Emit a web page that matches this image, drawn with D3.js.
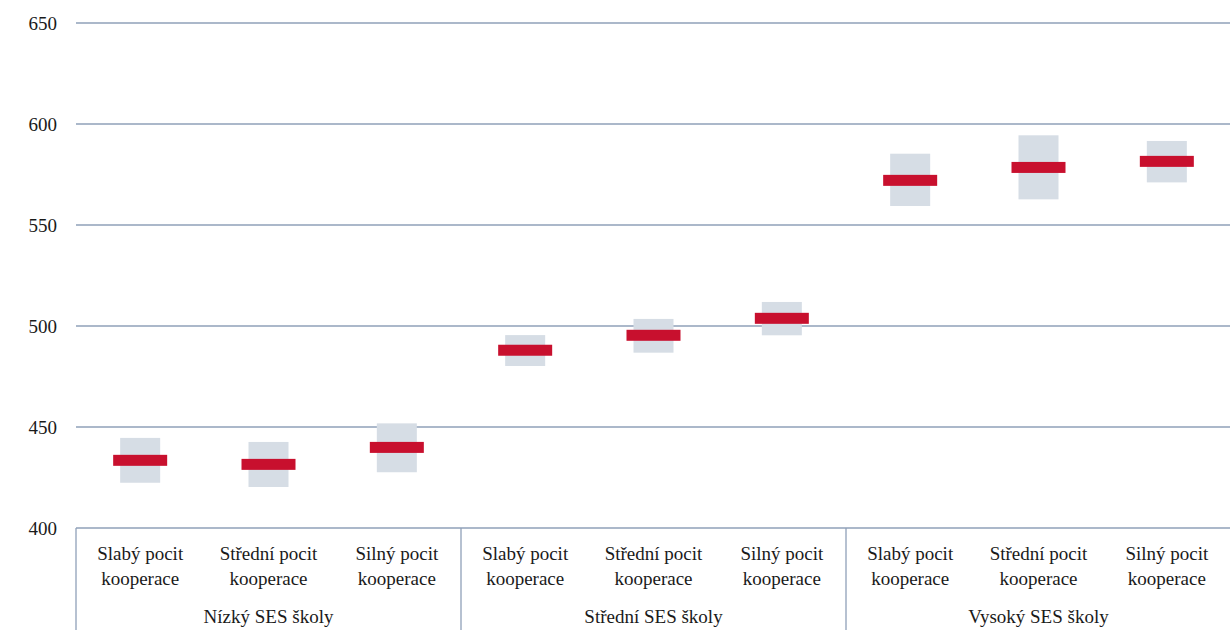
<!DOCTYPE html>
<html>
<head>
<meta charset="utf-8">
<script src="https://cdn.jsdelivr.net/npm/d3@7"></script>
<style>
  svg text { font-family: "Times New Roman", "Liberation Serif", Tinos, serif !important; }
</style>
</head>
<body style="margin:0">
<svg id="chart" width="1230" height="639"></svg>
<script>
// data
const groups = ["Nízký SES školy", "Střední SES školy", "Vysoký SES školy"];
const levels = ["Slabý pocit", "Střední pocit", "Silný pocit"];
const means = [433.5, 431.5, 439.9, 488.0, 495.4, 503.8, 572.1, 578.5, 581.5];
const lower = [422.4, 420.3, 427.6, 480.2, 486.8, 495.4, 559.4, 562.7, 571.1];
const upper = [444.6, 442.6, 451.8, 495.5, 503.5, 511.9, 585.3, 594.4, 591.6];
const yTicks = [400, 450, 500, 550, 600, 650];

/* Parameters and scales */
const svg = d3.select("#chart");
const plotLeft = 76, plotRight = 1231, plotTop = 23, plotBottom = 528;
const gridColor = "#8fa0b8";
const serif = '"Times New Roman", "Liberation Serif", serif';
const textColor = "#1a1a1a";
const fontSize = 19;

const cats = d3.range(means.length);
const x = d3.scaleBand()
            .domain(cats)
            .range([plotLeft, plotRight]);
const y = d3.scaleLinear()
            .domain([400, 650])
            .range([plotBottom, plotTop]);

// gridlines
svg.append("g")
  .selectAll("line")
  .data(yTicks.slice(1))
  .join("line")
  .attr("x1", plotLeft).attr("x2", plotRight)
  .attr("y1", d => y(d)).attr("y2", d => y(d))
  .attr("stroke", gridColor).attr("stroke-width", 1.3);

// y axis labels
const yAxis = svg.append("g")
  .attr("transform", `translate(${plotLeft},0)`)
  .call(d3.axisLeft(y).tickValues(yTicks).tickSize(0).tickPadding(19));
yAxis.select(".domain").remove();
yAxis.attr("font-family", serif).attr("font-size", fontSize);
yAxis.selectAll("text")
  .attr("font-family", serif)
  .attr("font-size", fontSize)
  .attr("fill", textColor);

// bottom axis line and group separators
svg.append("line")
  .attr("x1", plotLeft).attr("x2", plotRight)
  .attr("y1", plotBottom).attr("y2", plotBottom)
  .attr("stroke", gridColor).attr("stroke-width", 1.3);

const sepX = [0, 3, 6].map(i => x(i));
svg.append("g")
  .selectAll("line")
  .data(sepX)
  .join("line")
  .attr("x1", d => d).attr("x2", d => d)
  .attr("y1", plotBottom).attr("y2", 630)
  .attr("stroke", gridColor).attr("stroke-width", 1.3);

// interval boxes
const boxW = 40, meanW = 54, meanH = 11;
svg.append("g")
  .selectAll("rect")
  .data(cats)
  .join("rect")
  .attr("x", i => x(i) + x.bandwidth() / 2 - boxW / 2)
  .attr("width", boxW)
  .attr("y", i => y(upper[i]))
  .attr("height", i => y(lower[i]) - y(upper[i]))
  .attr("fill", "#d6dde5");

// mean markers
svg.append("g")
  .selectAll("rect")
  .data(cats)
  .join("rect")
  .attr("x", i => x(i) + x.bandwidth() / 2 - meanW / 2)
  .attr("width", meanW)
  .attr("y", i => y(means[i]) - meanH / 2)
  .attr("height", meanH)
  .attr("fill", "#c8102e");

// category labels
const catLabels = svg.append("g")
  .selectAll("text")
  .data(cats)
  .join("text")
  .attr("text-anchor", "middle")
  .attr("font-family", serif)
  .attr("font-size", fontSize)
  .attr("fill", textColor);
catLabels.append("tspan")
  .attr("x", i => x(i) + x.bandwidth() / 2)
  .attr("y", 560)
  .text(i => levels[i % 3]);
catLabels.append("tspan")
  .attr("x", i => x(i) + x.bandwidth() / 2)
  .attr("y", 585)
  .text("kooperace");

// group labels
svg.append("g")
  .selectAll("text")
  .data(groups)
  .join("text")
  .attr("text-anchor", "middle")
  .attr("font-family", serif)
  .attr("font-size", fontSize)
  .attr("fill", textColor)
  .attr("x", (d, g) => (x(g * 3) + x(g * 3 + 2) + x.bandwidth()) / 2)
  .attr("y", 623)
  .text(d => d);
</script>
</body>
</html>
